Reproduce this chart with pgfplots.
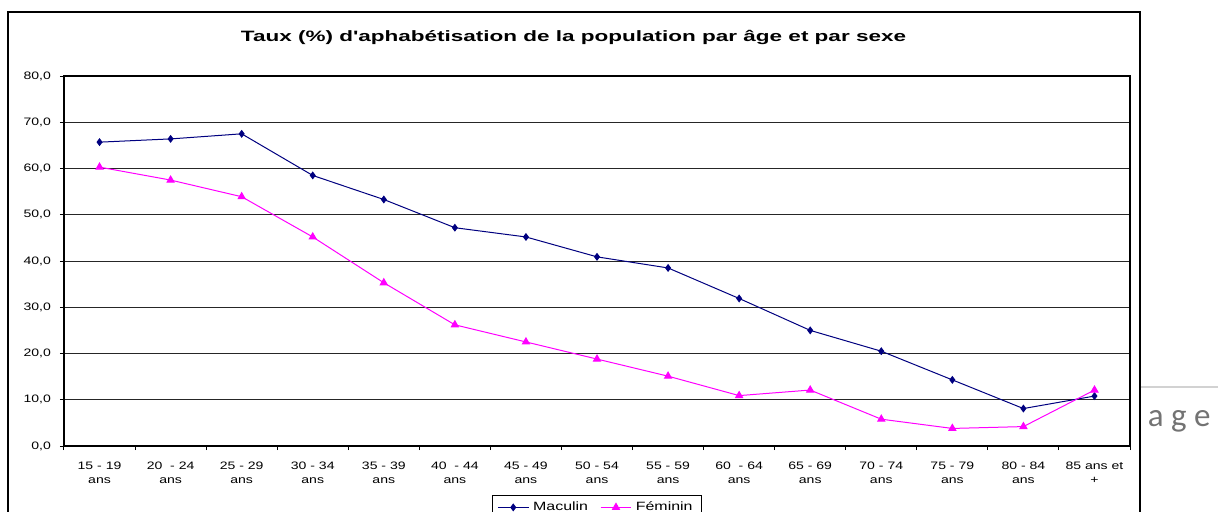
\documentclass[border=0pt]{standalone}
\usepackage{pgfplots}
\pgfplotsset{compat=1.18}
\usepackage{fontspec}
\setmainfont{Liberation Sans}[Ligatures=TeXOff]
\newfontfamily\pagefont{Carlito}
\definecolor{mnavy}{RGB}{0,0,128}
\definecolor{mmag}{RGB}{255,0,255}
\newcommand{\lab}[2]{\scalebox{1.3}[1]{\begin{tabular}{@{}c@{}}#1\\#2\end{tabular}}}
\begin{document}
\begin{tikzpicture}
\useasboundingbox (0,0) rectangle (609pt,255.5pt);
% page decoration behind the chart
\draw[gray!35, line width=1pt] (570pt,62pt) -- (609pt,62pt);
\node[anchor=base west, inner sep=0pt, text=black!55] at (561.5pt,42.2pt) {\pagefont\fontsize{16.5}{19}\selectfont P a g e};
% chart frame
\draw[fill=white, line width=0.6pt] (4pt,-5pt) rectangle (570pt,249.5pt);
\node[anchor=base, inner sep=0pt] at (286.75pt,235pt) {\scalebox{1.5}[1]{\bfseries\fontsize{7.5}{9}\selectfont Taux (\%) d'aphabétisation de la population par âge et par sexe}};
\begin{axis}[
  at={(32pt,32.5pt)}, anchor=south west,
  scale only axis, width=533pt, height=185pt,
  xmin=-0.5, xmax=14.5, ymin=0, ymax=80,
  axis line style={line width=0.6pt},
  xtick={-0.5,0.5,...,14.5},
  x tick label as interval,
  xticklabels={{\lab{15 - 19}{ans}},{\lab{20 \ - 24}{ans}},{\lab{25 - 29}{ans}},{\lab{30 - 34}{ans}},{\lab{35 - 39}{ans}},{\lab{40 \ - 44}{ans}},{\lab{45 - 49}{ans}},{\lab{50 - 54}{ans}},{\lab{55 - 59}{ans}},{\lab{60 \ - 64}{ans}},{\lab{65 - 69}{ans}},{\lab{70 - 74}{ans}},{\lab{75 - 79}{ans}},{\lab{80 - 84}{ans}},{\lab{85 ans et}{+}}},
  ytick={0,10,...,80},
  yticklabel={\scalebox{1.3}[1]{\pgfmathprintnumber[fixed,fixed zerofill,precision=1,use comma]{\tick}}},
  /pgf/number format/assume math mode=true,
  xtick pos=bottom, ytick pos=left,
  tick align=outside,
  major tick length=2pt,
  tick style={black, line width=0.5pt},
  ticklabel style={font=\fontsize{5.4}{7.3}\selectfont},
  xticklabel style={yshift=-1pt},
  yticklabel style={xshift=-1pt},
  ymajorgrids,
  grid style={black!85, line width=0.5pt},
  legend style={at={(0.5,-0.1324)}, anchor=north, legend columns=2,
    draw=black, line width=0.5pt, font=\fontsize{6}{7}\selectfont,
    inner xsep=2.5pt, inner ysep=1pt, /tikz/every even column/.append style={column sep=4pt}},
  legend image code/.code={\draw[mark repeat=2,mark phase=2] plot coordinates {(0cm,0cm) (0.27cm,0cm) (0.54cm,0cm)};},
]
\addplot[mnavy, line width=0.5pt, mark=diamond*, mark size=1.6pt, mark options={fill=mnavy}] coordinates {
(0,65.7) (1,66.4) (2,67.5) (3,58.5) (4,53.3) (5,47.2) (6,45.2) (7,40.9) (8,38.5) (9,31.9) (10,25.0) (11,20.5) (12,14.3) (13,8.1) (14,10.8)};
\addlegendentry{\scalebox{1.33}[1]{Maculin}}
\addplot[mmag, line width=0.5pt, mark=triangle*, mark size=2pt, mark options={fill=mmag}] coordinates {
(0,60.3) (1,57.5) (2,53.9) (3,45.2) (4,35.3) (5,26.2) (6,22.5) (7,18.8) (8,15.1) (9,10.9) (10,12.1) (11,5.8) (12,3.8) (13,4.2) (14,12.1)};
\addlegendentry{\scalebox{1.33}[1]{Féminin}}
\end{axis}
\end{tikzpicture}
\end{document}
